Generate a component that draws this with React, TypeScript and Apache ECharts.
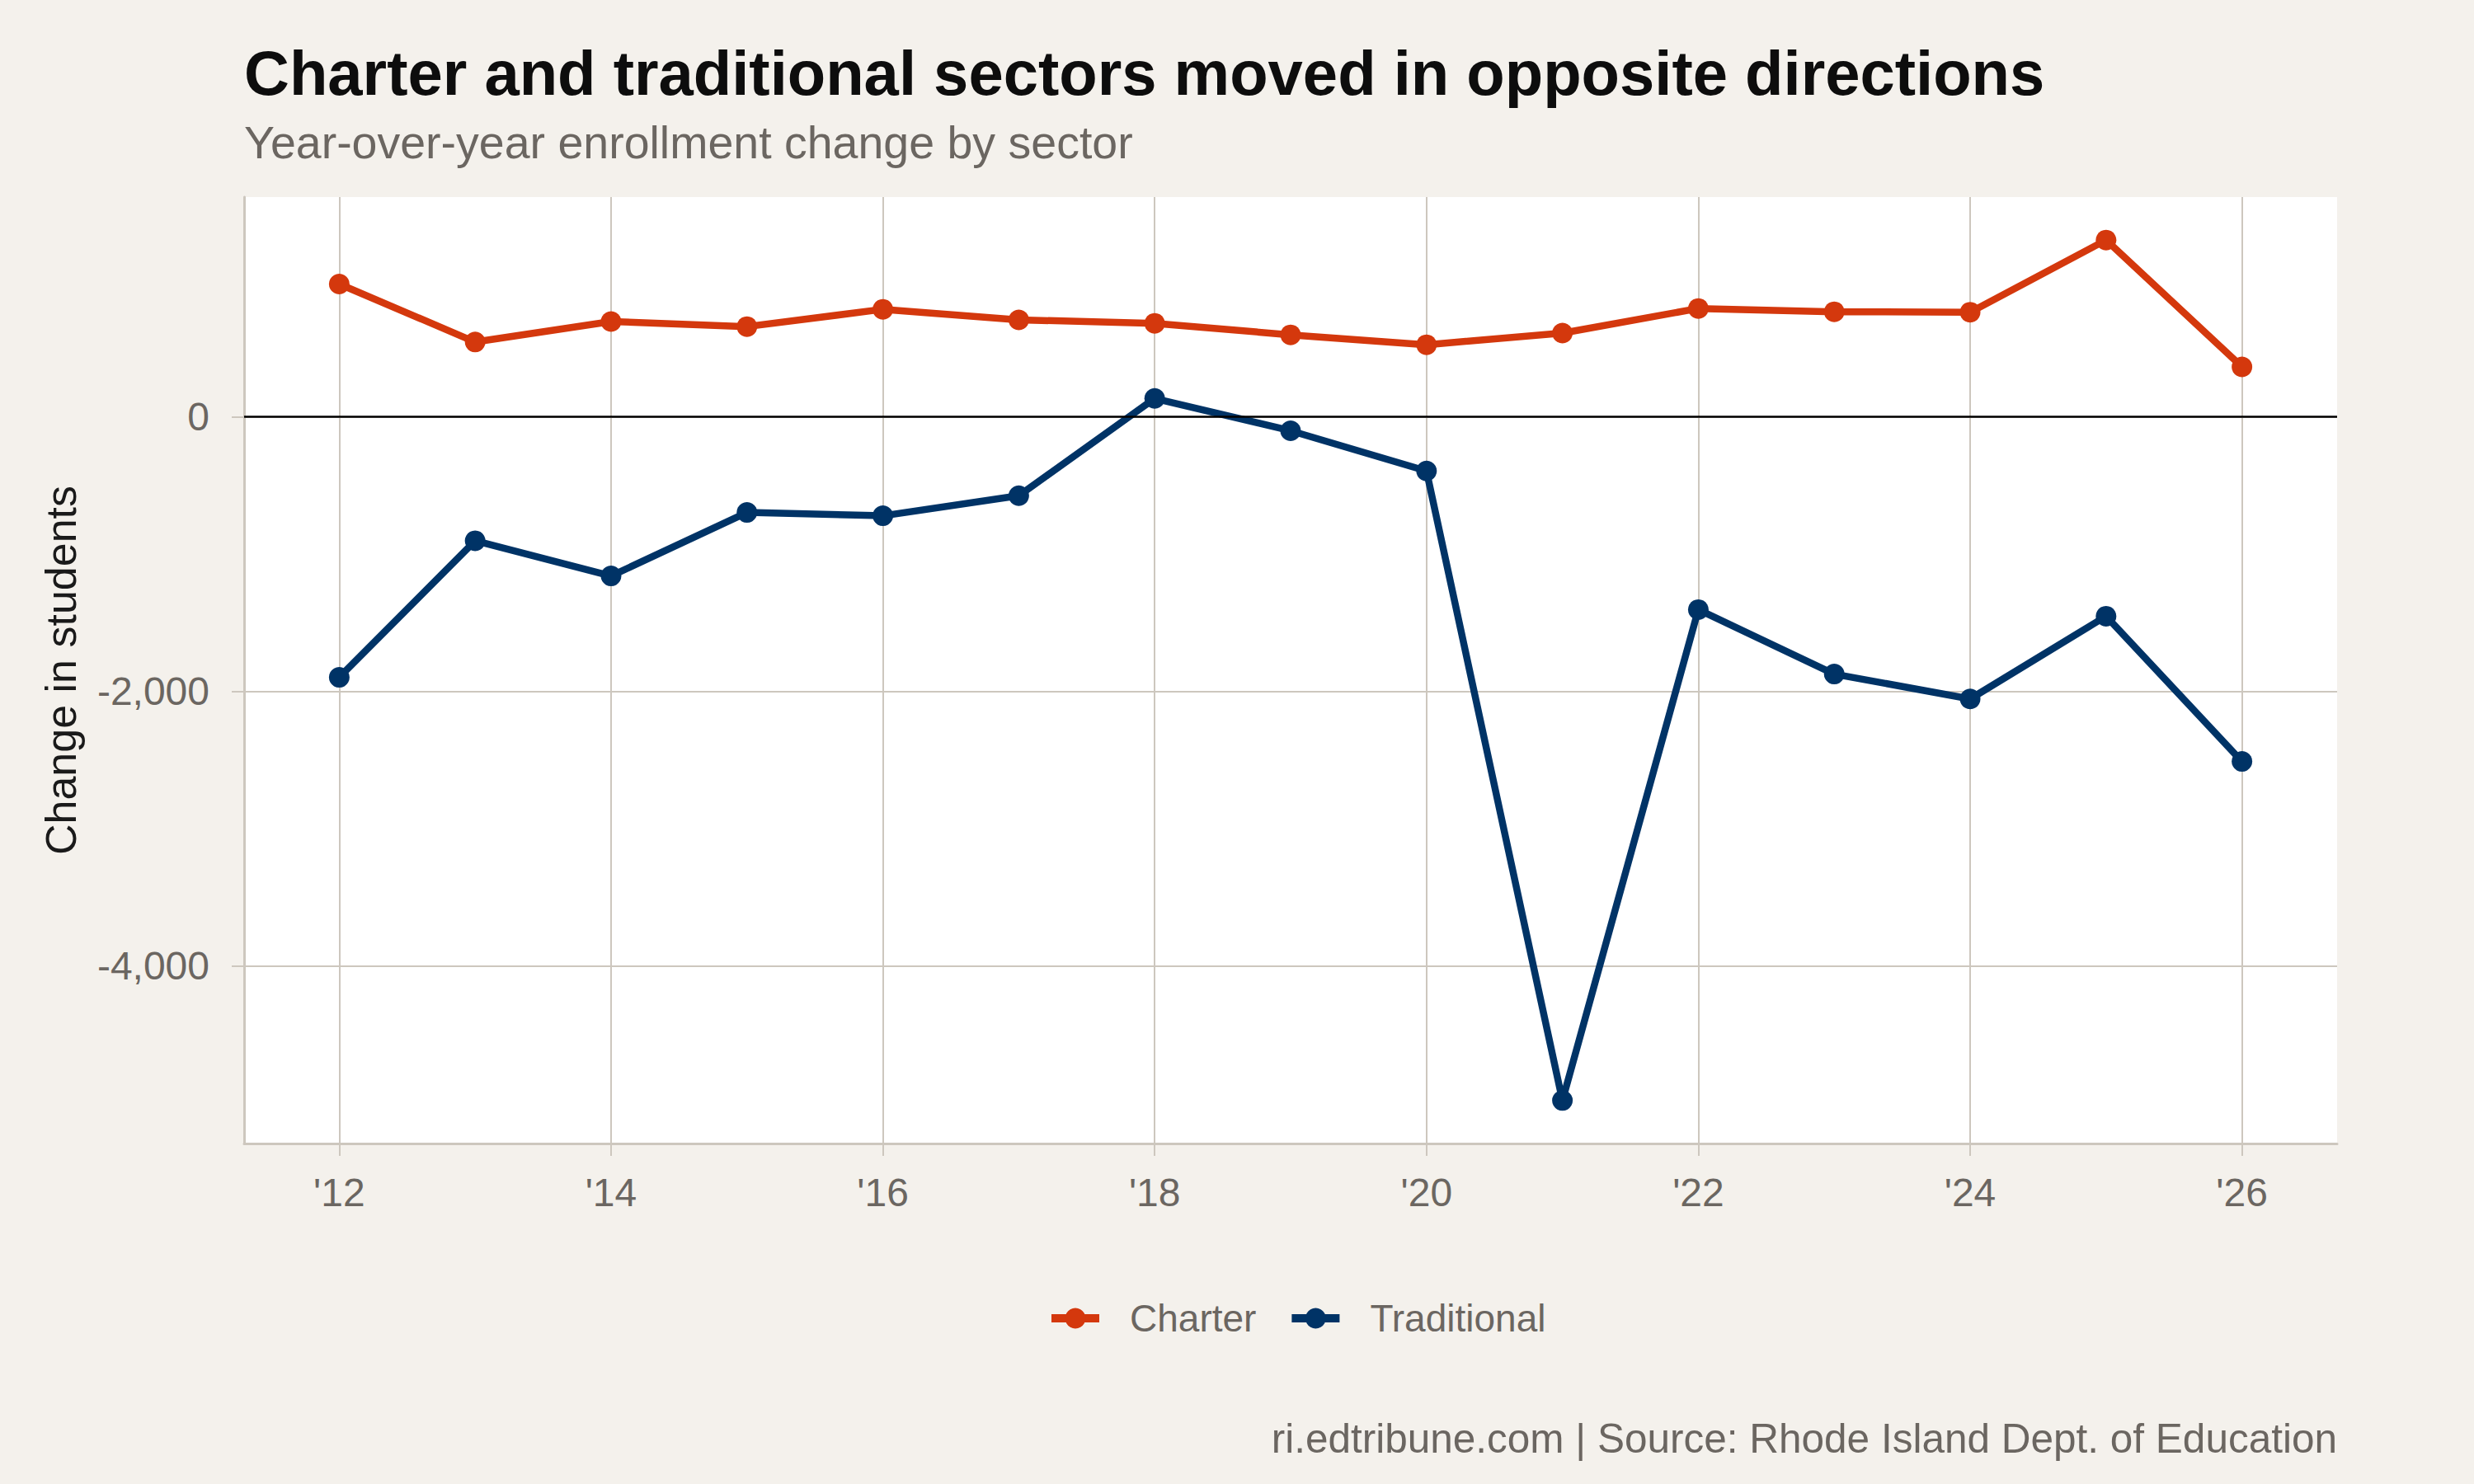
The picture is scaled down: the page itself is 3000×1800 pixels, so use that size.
import { useEffect, useRef } from 'react';
import * as echarts from 'echarts';

// 数据
const years = [2012, 2013, 2014, 2015, 2016, 2017, 2018, 2019, 2020, 2021, 2022, 2023, 2024, 2025, 2026];
const charter = [965, 543, 692, 655, 781, 704, 679, 595, 523, 608, 787, 763, 760, 1285, 362];
const traditional = [-1898, -904, -1160, -698, -722, -576, 132, -103, -396, -4978, -1405, -1874, -2055, -1453, -2510];
const xTickValues = [2012, 2014, 2016, 2018, 2020, 2022, 2024, 2026];
const yTickValues = [-4000, -2000, 0];

const colors = {
  background: '#f4f1ec',
  panel: '#ffffff',
  grid: '#cdc7be',
  title: '#0d0d0d',
  text: '#6b6661',
  axisTitle: '#1a1a1a',
  charter: '#d4380d',
  traditional: '#003366',
};

const FONT = '"Liberation Sans", Arial, Helvetica, sans-serif';

export default function App() {
  const chartRef = useRef<HTMLDivElement>(null);

  useEffect(() => {
    if (!chartRef.current) return;
    const chart = echarts.init(chartRef.current, undefined, { renderer: 'svg' });

    const option: echarts.EChartsOption = {
      animation: false,
      backgroundColor: colors.background,
      textStyle: { fontFamily: FONT },
      grid: {
        left: 296,
        right: 166,
        top: 239,
        bottom: 413,
        show: true,
        backgroundColor: colors.panel,
        borderWidth: 0,
      },
      graphic: [
        {
          type: 'text',
          x: 296,
          y: 88,
          style: {
            text: 'Charter and traditional sectors moved in opposite directions',
            font: `bold 76px ${FONT}`,
            fill: colors.title,
            align: 'left',
            verticalAlign: 'middle',
          },
        },
        {
          type: 'text',
          x: 296,
          y: 173,
          style: {
            text: 'Year-over-year enrollment change by sector',
            font: `55.5px ${FONT}`,
            fill: colors.text,
            align: 'left',
            verticalAlign: 'middle',
          },
        },
        {
          type: 'text',
          x: 2834,
          y: 1744,
          style: {
            text: 'ri.edtribune.com | Source: Rhode Island Dept. of Education',
            font: `49.5px ${FONT}`,
            fill: colors.text,
            align: 'right',
            verticalAlign: 'middle',
          },
        },
      ],
      legend: {
        data: ['Charter', 'Traditional'],
        left: 1270,
        top: 1576,
        padding: 0,
        itemWidth: 58,
        itemHeight: 31,
        itemGap: 38,
        lineStyle: { width: 10 },
        textStyle: {
          fontFamily: FONT,
          fontSize: 46,
          color: colors.text,
          padding: [0, 0, 0, 32],
        },
      },
      xAxis: {
        type: 'value',
        min: 2011.3,
        max: 2026.7,
        axisLine: { show: true, onZero: false, lineStyle: { color: colors.grid, width: 3 } },
        axisTick: {
          show: true,
          length: 15,
          customValues: xTickValues,
          lineStyle: { color: colors.grid, width: 2 },
        },
        axisLabel: {
          customValues: xTickValues,
          formatter: (v: number) => "'" + String(v).slice(2),
          fontFamily: FONT,
          fontSize: 48,
          color: colors.text,
          margin: 35,
        },
        splitLine: { show: true, lineStyle: { color: colors.grid, width: 2 } },
      },
      yAxis: {
        type: 'value',
        min: -5291,
        max: 1598,
        name: 'Change in students',
        nameLocation: 'middle',
        nameGap: 196,
        nameRotate: 90,
        nameTextStyle: { fontFamily: FONT, fontSize: 52, color: colors.axisTitle },
        axisLine: { show: true, onZero: false, lineStyle: { color: colors.grid, width: 3 } },
        axisTick: {
          show: true,
          length: 15,
          customValues: yTickValues,
          lineStyle: { color: colors.grid, width: 2 },
        },
        axisLabel: {
          customValues: yTickValues,
          formatter: (v: number) => v.toLocaleString('en-US'),
          fontFamily: FONT,
          fontSize: 48,
          color: colors.text,
          margin: 42,
        },
        splitLine: { show: true, lineStyle: { color: colors.grid, width: 2 } },
      },
      series: [
        {
          // 零基准线
          type: 'line',
          data: [],
          z: 1,
          silent: true,
          markLine: {
            silent: true,
            symbol: 'none',
            label: { show: false },
            lineStyle: { color: '#000000', width: 2.5, type: 'solid' },
            data: [{ yAxis: 0 }],
          },
        },
        {
          name: 'Charter',
          type: 'line',
          z: 3,
          data: years.map((y, i) => [y, charter[i]]),
          symbol: 'circle',
          symbolSize: 25,
          lineStyle: { width: 8.5, color: colors.charter },
          itemStyle: { color: colors.charter },
        },
        {
          name: 'Traditional',
          type: 'line',
          z: 3,
          data: years.map((y, i) => [y, traditional[i]]),
          symbol: 'circle',
          symbolSize: 25,
          lineStyle: { width: 8.5, color: colors.traditional },
          itemStyle: { color: colors.traditional },
        },
      ],
    };

    chart.setOption(option);
    return () => chart.dispose();
  }, []);

  return (
    <div
      ref={chartRef}
      style={{ position: 'absolute', left: 0, top: 0, width: 3000, height: 1800 }}
    />
  );
}
